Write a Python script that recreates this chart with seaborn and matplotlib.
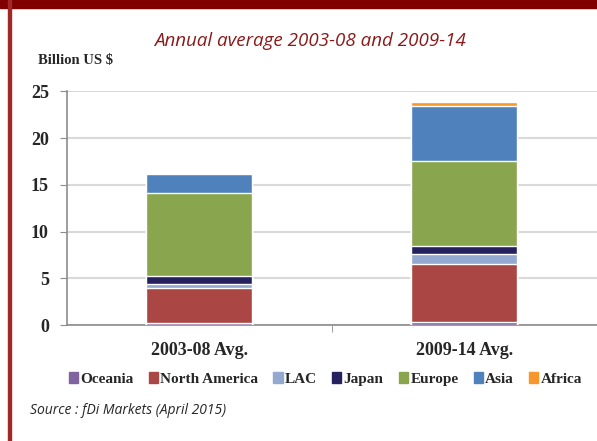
import matplotlib.pyplot as plt
import matplotlib.patches as mpatches
import pandas as pd
import numpy as np
import seaborn as sns

# data (billion US $)
periods = ["2003-08 Avg.", "2009-14 Avg."]
regions = ["Oceania", "North America", "LAC", "Japan", "Europe", "Asia", "Africa"]
oceania = [0.2, 0.3]
north_america = [3.8, 6.2]
lac = [0.4, 1.1]
japan = [0.85, 0.9]
europe = [8.9, 9.0]
asia = [2.0, 5.9]
africa = [0.1, 0.5]
colors = ["#7F64A0", "#AA4643", "#93A9CF", "#24215E", "#89A54E", "#4F81BD", "#F7962A"]

series = [oceania, north_america, lac, japan, europe, asia, africa]
df = pd.DataFrame(np.array(series).T, columns=regions)
df["period"] = periods
cum = df[regions].cumsum(axis=1)
cum["period"] = periods

sns.set_style("white")
fig = plt.figure(figsize=(5.97, 4.41), dpi=100)
ax = fig.add_axes([0.112, 0.263, 0.888, 0.53])

# draw cumulative totals from top down so they look stacked
for reg, col in reversed(list(zip(regions, colors))):
    sns.barplot(data=cum, x="period", y=reg, color=col, width=0.4,
                saturation=1, ax=ax, zorder=3)

ax.set_ylim(0, 25)
ax.set_xlim(-0.5, 1.5)
ax.set_yticks(range(0, 26, 5))
ax.yaxis.grid(True, color="#D9D9D9", linewidth=1.5, zorder=0)
ax.set_axisbelow(True)
ax.set_xlabel("")
ax.set_ylabel("")
for s in ["top", "right"]:
    ax.spines[s].set_visible(False)
ax.spines["left"].set_color("#8C8C8C")
ax.spines["bottom"].set_color("#8C8C8C")
ax.spines["left"].set_linewidth(1.2)
ax.spines["bottom"].set_linewidth(1.2)
ax.tick_params(axis="y", left=True, length=5, color="#8C8C8C", pad=8)
ax.tick_params(axis="x", bottom=False, pad=9)
ax.set_xticks([0, 1])
ax.set_xticks([0.5], minor=True)
ax.tick_params(axis="x", which="minor", bottom=True, length=5, color="#8C8C8C")
for lab in ax.get_yticklabels() + ax.get_xticklabels():
    lab.set_fontfamily("Liberation Serif")
    lab.set_fontweight("bold")
    lab.set_fontsize(13)

# frame decorations
fig.patches.append(mpatches.Rectangle((0, 1 - 8 / 441), 1, 8 / 441, transform=fig.transFigure,
                                      color="#800000", zorder=0))
fig.patches.append(mpatches.Rectangle((8 / 597, 0), 2.5 / 597, 1, transform=fig.transFigure,
                                      color="#A02828", zorder=0))

fig.text(0.52, 0.907, "Annual average 2003-08 and 2009-14", ha="center", va="center",
         fontsize=13.5, style="italic", color="#8B1A1A", family="Open Sans")
fig.text(0.064, 0.862, "Billion US $", ha="left", va="center", fontsize=10.5,
         fontweight="bold", family="Liberation Serif")

handles = [mpatches.Patch(color=c, label=r) for r, c in zip(regions, colors)]
leg = fig.legend(handles=handles, loc="center", bbox_to_anchor=(0.545, 0.14), ncol=7,
                 frameon=False, handlelength=0.6, handleheight=0.7, handletextpad=0.15,
                 columnspacing=1.0, prop={"family": "Liberation Serif", "weight": "bold", "size": 11})

fig.text(0.05, 0.07, "Source : fDi Markets (April 2015)", ha="left", va="center",
         fontsize=10, style="italic", family="Open Sans")

fig.savefig("out.png", dpi=100)
